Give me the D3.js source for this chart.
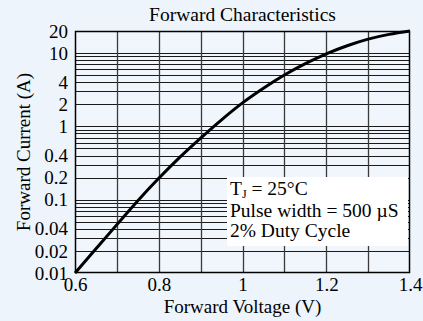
<!DOCTYPE html>
<html><head><meta charset="utf-8">
<script src="https://cdn.jsdelivr.net/npm/d3@7"></script>
<style>
html,body{margin:0;padding:0;background:#eef4fb;}
svg{display:block;font-family:"Liberation Serif","Times New Roman",serif;}
</style></head>
<body>
<svg id="chart" width="423" height="321"></svg>
<script>
const voltage = [0.6, 0.65, 0.7, 0.75, 0.8, 0.85, 0.9, 0.95, 1.0, 1.05, 1.1, 1.15, 1.2, 1.25, 1.3, 1.35, 1.4];
const current = [0.01, 0.0214, 0.0457, 0.097, 0.196, 0.378, 0.692, 1.23, 2.09, 3.31, 5.01, 7.16, 9.77, 12.6, 15.5, 18.0, 20];
const xTicks = [0.6, 0.8, 1.0, 1.2, 1.4];
const xTickLabels = ["0.6", "0.8", "1", "1.2", "1.4"];
const xGrid = [0.7, 0.8, 0.9, 1.0, 1.1, 1.2, 1.3];
const yTicks = [20, 10, 4, 2, 1, 0.4, 0.2, 0.1, 0.04, 0.02, 0.01];
const yTickLabels = ["20", "10", "4", "2", "1", "0.4", "0.2", "0.1", "0.04", "0.02", "0.01"];
const yGrid = [0.02,0.03,0.04,0.05,0.06,0.07,0.08,0.09,0.1,0.2,0.3,0.4,0.5,0.6,0.7,0.8,0.9,1,2,3,4,5,6,7,8,9,10];
const title = "Forward Characteristics";
const xLabel = "Forward Voltage (V)";
const yLabel = "Forward Current (A)";
const notes = ["Pulse width = 500 \u00B5S", "2% Duty Cycle"];

const svg = d3.select("#chart");
const L = 75, R = 410, T = 31, B = 273;
const x = d3.scaleLinear().domain([0.6, 1.4]).range([L, R]);
const y = d3.scaleLog().domain([0.01, 20]).range([B, T]);
const px = v => Math.round(v) + 0.5;

svg.append("rect").attr("x", L).attr("y", T).attr("width", R - L).attr("height", B - T).attr("fill", "#f0f6fc");

svg.append("g").selectAll("line").data(yGrid).join("line")
  .attr("x1", L).attr("x2", R).attr("y1", d => px(y(d))).attr("y2", d => px(y(d)))
  .attr("stroke", "#1a1a1a").attr("stroke-width", 1);
svg.append("g").selectAll("line").data(xGrid).join("line")
  .attr("y1", T).attr("y2", B).attr("x1", d => px(x(d))).attr("x2", d => px(x(d)))
  .attr("stroke", "#3a3a3a").attr("stroke-width", 1.3);

svg.append("rect").attr("x", 227).attr("y", 177).attr("width", 181).attr("height", 69).attr("fill", "#ffffff");

svg.append("rect").attr("x", L + 0.5).attr("y", T + 0.5).attr("width", R - L - 1).attr("height", B - T - 1)
  .attr("fill", "none").attr("stroke", "#000").attr("stroke-width", 1.5);

const line = d3.line().x((d, i) => x(voltage[i])).y(d => y(d)).curve(d3.curveMonotoneX);
svg.append("path").datum(current).attr("d", line).attr("fill", "none").attr("stroke", "#000").attr("stroke-width", 3);

const yAxis = d3.axisLeft(y).tickValues(yTicks).tickFormat((d, i) => yTickLabels[i]).tickSize(0).tickPadding(7);
const gy = svg.append("g").attr("transform", `translate(${L},0)`).call(yAxis);
gy.select(".domain").remove();
gy.selectAll("text").attr("font-size", 19).attr("fill", "#000").attr("font-family", "Liberation Serif");

const xAxis = d3.axisBottom(x).tickValues(xTicks).tickFormat((d, i) => xTickLabels[i]).tickSize(0).tickPadding(5);
const gx = svg.append("g").attr("transform", `translate(0,${B})`).call(xAxis);
gx.select(".domain").remove();
gx.selectAll("text").attr("font-size", 19).attr("fill", "#000").attr("font-family", "Liberation Serif");

svg.append("text").attr("x", (L + R) / 2).attr("y", 21).attr("text-anchor", "middle")
  .attr("font-size", 19.5).text(title);
svg.append("text").attr("x", (L + R) / 2).attr("y", 313).attr("text-anchor", "middle")
  .attr("font-size", 19).text(xLabel);
svg.append("text").attr("transform", `translate(30,${(T + B) / 2}) rotate(-90)`).attr("text-anchor", "middle")
  .attr("font-size", 19).text(yLabel);

const t1 = svg.append("text").attr("x", 230).attr("y", 195).attr("font-size", 19.5);
t1.append("tspan").text("T");
t1.append("tspan").attr("font-size", 12).attr("dy", 3).text("J");
t1.append("tspan").attr("dy", -3).text(" = 25\u00B0C");
notes.forEach((n, i) => {
  svg.append("text").attr("x", 230).attr("y", 216.5 + i * 20).attr("font-size", 19.5).text(n);
});
</script>
</body></html>
